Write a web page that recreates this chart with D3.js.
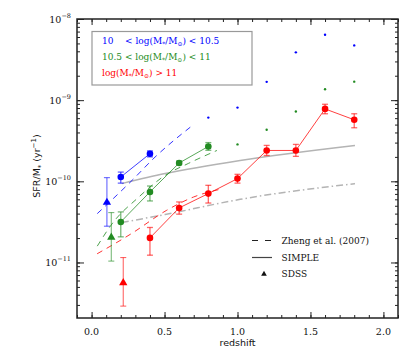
<!DOCTYPE html>
<html>
<head>
<meta charset="utf-8">
<script src="https://cdn.jsdelivr.net/npm/d3@7"></script>
<style>
  body { margin: 0; background: #fff; }
  text { font-family: 'DejaVu Serif', serif; }
  .axtitle { font-family: 'DejaVu Sans', sans-serif; font-size: 9.5px; }
</style>
</head>
<body>
<div id="chart"></div>
<script>
// measured points (circles with error bars)
var blueZ = [0.2, 0.4];
var blueV = [1.13e-10, 2.19e-10];
var blueLo = [9.5e-11, 2.0e-10];
var blueHi = [1.30e-10, 2.37e-10];

var greenZ = [0.2, 0.4, 0.6, 0.8];
var greenV = [3.16e-11, 7.4e-11, 1.68e-10, 2.69e-10];
var greenLo = [2.07e-11, 5.73e-11, 1.6e-10, 2.41e-10];
var greenHi = [4.2e-11, 8.75e-11, 1.78e-10, 3.0e-10];

var redZ = [0.4, 0.6, 0.8, 1.0, 1.2, 1.4, 1.6, 1.8];
var redV = [2.01e-11, 4.7e-11, 7.06e-11, 1.08e-10, 2.4e-10, 2.4e-10, 7.8e-10, 5.73e-10];
var redLo = [1.23e-11, 3.94e-11, 5.4e-11, 9.5e-11, 2.08e-10, 2.03e-10, 6.8e-10, 4.57e-10];
var redHi = [2.7e-11, 5.57e-11, 8.93e-11, 1.22e-10, 2.77e-10, 2.85e-10, 8.9e-10, 6.8e-10];

// small dots at high redshift
var blueDotZ = [0.8, 1.0, 1.2, 1.4, 1.6, 1.8];
var blueDotV = [6.1e-10, 8.1e-10, 1.68e-9, 3.88e-9, 6.4e-9, 4.73e-9];
var greenDotZ = [1.0, 1.2, 1.4, 1.6, 1.8];
var greenDotV = [2.85e-10, 4.32e-10, 7.24e-10, 1.36e-9, 1.69e-9];

// SDSS triangles
var sdssZ = [0.105, 0.135, 0.217];
var sdssV = [5.57e-11, 2.07e-11, 5.68e-12];
var sdssLo = [2.8e-11, 1.04e-11, 2.9e-12];
var sdssHi = [1.11e-10, 4.12e-11, 1.15e-11];

// Zheng et al. (2007)
var zhengBlueZ = [0.039, 0.278, 0.435, 0.699];
var zhengBlueV = [4.0e-11, 1.03e-10, 1.99e-10, 5.0e-10];
var zhengGreenZ = [0.039, 0.150, 0.312, 0.506, 0.663, 0.859];
var zhengGreenV = [1.59e-11, 3.16e-11, 6.13e-11, 1.19e-10, 1.66e-10, 2.40e-10];
var zhengRedZ = [0.038, 0.275, 0.515, 0.699, 0.902];
var zhengRedV = [1.28e-11, 2.28e-11, 4.40e-11, 6.41e-11, 8.14e-11];

// SIMPLE model
var simpleZ = [0.207, 0.504, 1.018, 1.805];
var simpleV = [9.37e-11, 1.245e-10, 1.81e-10, 2.77e-10];
var simple2V = [3.11e-11, 3.9e-11, 6.0e-11, 9.37e-11];

var xTicks = [0.0, 0.5, 1.0, 1.5, 2.0];
var yTicks = [-11, -10, -9, -8];

var w = 415, h = 357;
var pLeft = 77, pRight = 398, pTop = 19, pBottom = 318;

var svg = d3.select("#chart").append("svg")
    .attr("width", w).attr("height", h);

var x = d3.scaleLinear().domain([-0.1, 2.1]).range([pLeft, pRight]);
var y = d3.scaleLog().domain([2.07e-12, 1e-8]).range([pBottom, pTop]);

var cBlue = "#0000ff", cGreen = "#228b22", cRed = "#ff0000";

function pts(zs, vs) { return zs.map(function(z, i) { return [z, vs[i]]; }); }

var line = d3.line().x(function(d) { return x(d[0]); }).y(function(d) { return y(d[1]); });
var smooth = d3.line().curve(d3.curveMonotoneX)
    .x(function(d) { return x(d[0]); }).y(function(d) { return y(d[1]); });

// SIMPLE lines
svg.append("path").attr("d", smooth(pts(simpleZ, simpleV)))
    .attr("fill", "none").attr("stroke", "#b4b4b4").attr("stroke-width", 1.5);
svg.append("path").attr("d", smooth(pts(simpleZ, simple2V)))
    .attr("fill", "none").attr("stroke", "#b4b4b4").attr("stroke-width", 1.5)
    .attr("stroke-dasharray", "7,3,1.5,3");

// Zheng dashed
[[zhengBlueZ, zhengBlueV, cBlue], [zhengGreenZ, zhengGreenV, cGreen], [zhengRedZ, zhengRedV, cRed]].forEach(function(s) {
    svg.append("path").attr("d", smooth(pts(s[0], s[1])))
        .attr("fill", "none").attr("stroke", s[2]).attr("stroke-width", 1)
        .attr("stroke-opacity", 0.8)
        .attr("stroke-dasharray", "6,5");
});

// measured series
function series(zs, vs, lo, hi, col) {
    svg.append("path").attr("d", line(pts(zs, vs)))
        .attr("fill", "none").attr("stroke", col).attr("stroke-width", 1)
        .attr("stroke-opacity", 0.75);
    var g = svg.append("g").attr("stroke", col).attr("stroke-opacity", 0.6).attr("stroke-width", 1.3);
    zs.forEach(function(z, i) {
        var cx = x(z);
        g.append("line").attr("x1", cx).attr("x2", cx).attr("y1", y(lo[i])).attr("y2", y(hi[i]));
        g.append("line").attr("x1", cx - 3).attr("x2", cx + 3).attr("y1", y(lo[i])).attr("y2", y(lo[i]));
        g.append("line").attr("x1", cx - 3).attr("x2", cx + 3).attr("y1", y(hi[i])).attr("y2", y(hi[i]));
    });
    svg.append("g").selectAll("circle").data(pts(zs, vs)).enter().append("circle")
        .attr("cx", function(d) { return x(d[0]); })
        .attr("cy", function(d) { return y(d[1]); })
        .attr("r", 3.3).attr("fill", col);
}
series(blueZ, blueV, blueLo, blueHi, cBlue);
series(greenZ, greenV, greenLo, greenHi, cGreen);
series(redZ, redV, redLo, redHi, cRed);

// small dots
[[blueDotZ, blueDotV, cBlue], [greenDotZ, greenDotV, cGreen]].forEach(function(s) {
    svg.append("g").selectAll("circle").data(pts(s[0], s[1])).enter().append("circle")
        .attr("cx", function(d) { return x(d[0]); })
        .attr("cy", function(d) { return y(d[1]); })
        .attr("r", 1.2).attr("fill", s[2]);
});

// SDSS triangles
var sdssCol = [cBlue, cGreen, cRed];
sdssZ.forEach(function(z, i) {
    var cx = x(z);
    var g = svg.append("g").attr("stroke", sdssCol[i]).attr("stroke-opacity", 0.6).attr("stroke-width", 1.1);
    g.append("line").attr("x1", cx).attr("x2", cx).attr("y1", y(sdssLo[i])).attr("y2", y(sdssHi[i]));
    g.append("line").attr("x1", cx - 3).attr("x2", cx + 3).attr("y1", y(sdssLo[i])).attr("y2", y(sdssLo[i]));
    g.append("line").attr("x1", cx - 3).attr("x2", cx + 3).attr("y1", y(sdssHi[i])).attr("y2", y(sdssHi[i]));
    svg.append("path").attr("d", d3.symbol(d3.symbolTriangle, 30)())
        .attr("transform", "translate(" + cx + "," + (y(sdssV[i]) + 0.5) + ")")
        .attr("fill", sdssCol[i]);
});

// axes: inward ticks on all four sides
var minorX = d3.range(-0.1, 2.1001, 0.1).map(function(d) { return Math.round(d * 10) / 10; });
var logTicks = y.ticks().filter(function(d) { return d >= 2.07e-12; });
var majorY = yTicks.map(function(e) { return Math.pow(10, e); });

function addAxis(axis, tx, ty) {
    var g = svg.append("g").attr("transform", "translate(" + tx + "," + ty + ")").call(axis);
    g.select(".domain").remove();
    g.selectAll("line").attr("stroke", "#222").attr("stroke-width", 1);
    g.selectAll("text").remove();
}
addAxis(d3.axisBottom(x).tickValues(minorX).tickSize(-3), 0, pBottom);
addAxis(d3.axisBottom(x).tickValues(xTicks).tickSize(-6), 0, pBottom);
addAxis(d3.axisTop(x).tickValues(minorX).tickSize(-3), 0, pTop);
addAxis(d3.axisTop(x).tickValues(xTicks).tickSize(-6), 0, pTop);
addAxis(d3.axisLeft(y).tickValues(logTicks).tickSize(-3), pLeft, 0);
addAxis(d3.axisLeft(y).tickValues(majorY).tickSize(-7), pLeft, 0);
addAxis(d3.axisRight(y).tickValues(logTicks).tickSize(-3), pRight, 0);
addAxis(d3.axisRight(y).tickValues(majorY).tickSize(-7), pRight, 0);

svg.append("rect").attr("x", pLeft).attr("y", pTop)
    .attr("width", pRight - pLeft).attr("height", pBottom - pTop)
    .attr("fill", "none").attr("stroke", "#222").attr("stroke-width", 1.5);

// tick labels
svg.append("g").selectAll("text").data(xTicks).enter().append("text")
    .attr("x", function(d) { return x(d); }).attr("y", 334.5)
    .attr("text-anchor", "middle").attr("font-size", 9.5).attr("fill", "#111")
    .text(function(d) { return d.toFixed(1); });

yTicks.forEach(function(e) {
    var t = svg.append("text").attr("x", 71).attr("y", y(Math.pow(10, e)) + 3.5)
        .attr("text-anchor", "end").attr("font-size", 9.5).attr("fill", "#111");
    t.append("tspan").text("10");
    t.append("tspan").attr("dy", -4.5).attr("font-size", 6.5).text("\u2212" + (-e));
});

// axis titles
svg.append("text").attr("class", "axtitle").attr("x", x(1.0)).attr("y", 346)
    .attr("text-anchor", "middle").attr("fill", "#111").text("redshift");

var yl = svg.append("text").attr("class", "axtitle")
    .attr("transform", "translate(40,166) rotate(-90)")
    .attr("text-anchor", "middle").attr("fill", "#111");
yl.append("tspan").text("SFR/M");
yl.append("tspan").attr("dy", 2.5).attr("font-size", 7).text("*");
yl.append("tspan").attr("dy", -2.5).text(" (yr");
yl.append("tspan").attr("dy", -4).attr("font-size", 7).text("\u22121");
yl.append("tspan").attr("dy", 4).text(")");

// mass bin legend
svg.append("rect").attr("x", 92).attr("y", 31.5).attr("width", 160).attr("height", 53.5)
    .attr("fill", "none").attr("stroke", "#999").attr("stroke-width", 1.2);

function massText(t, pre, post) {
    t.append("tspan").text(pre + "log(M");
    t.append("tspan").attr("dy", 2).attr("font-size", 6).text("*");
    t.append("tspan").attr("dy", -2).text("/M");
    t.append("tspan").attr("dy", 2).attr("font-size", 6).text("\u2299");
    t.append("tspan").attr("dy", -2).text(")" + post);
}
svg.append("text").attr("x", 102).attr("y", 44).attr("font-size", 9).attr("fill", cBlue).text("10");
massText(svg.append("text").attr("x", 125).attr("y", 44).attr("font-size", 9).attr("fill", cBlue), "< ", " < 10.5");
massText(svg.append("text").attr("x", 102).attr("y", 60).attr("font-size", 9).attr("fill", cGreen), "10.5 < ", " < 11");
massText(svg.append("text").attr("x", 102).attr("y", 76).attr("font-size", 9).attr("fill", cRed), "", " > 11");

// line style legend
svg.append("line").attr("x1", 252).attr("x2", 272).attr("y1", 240.5).attr("y2", 240.5)
    .attr("stroke", "#222").attr("stroke-dasharray", "6,7");
svg.append("line").attr("x1", 252).attr("x2", 272).attr("y1", 257.5).attr("y2", 257.5)
    .attr("stroke", "#444").attr("stroke-width", 1.2);
svg.append("path").attr("d", d3.symbol(d3.symbolTriangle, 14)())
    .attr("transform", "translate(264,274)").attr("fill", "#111");
[["Zheng et al. (2007)", 243.5], ["SIMPLE", 260.5], ["SDSS", 276.5]].forEach(function(d) {
    svg.append("text").attr("x", 281.5).attr("y", d[1]).attr("font-size", 9)
        .attr("fill", "#111").text(d[0]);
});
</script>
</body>
</html>
